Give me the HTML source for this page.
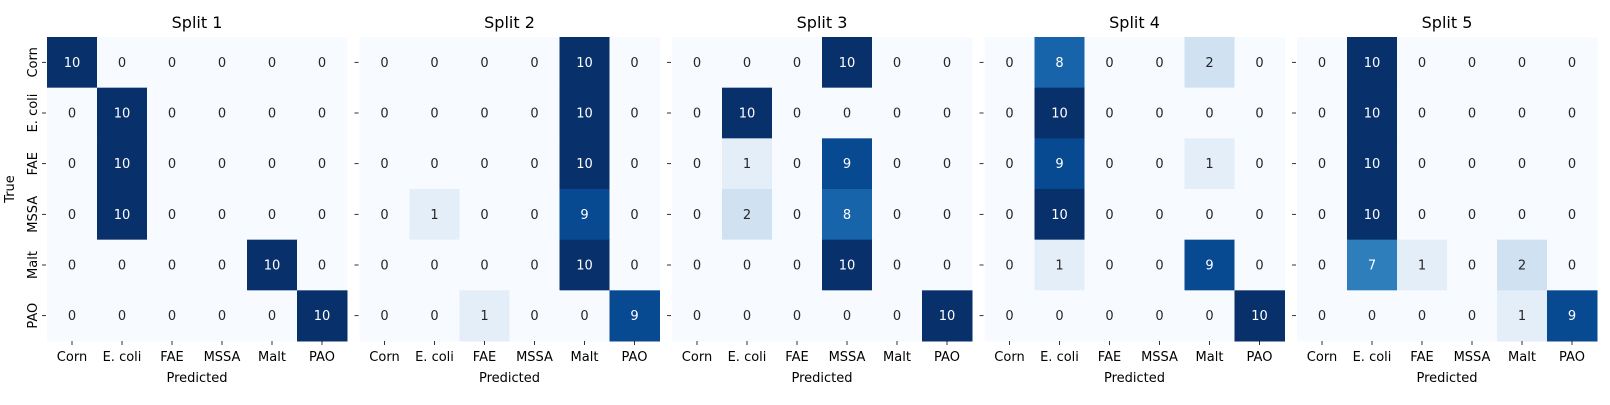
<!DOCTYPE html>
<html><head><meta charset="utf-8"><style>
html,body{margin:0;padding:0;background:#fff}
svg text{font-family:"DejaVu Sans","Liberation Sans",sans-serif;}
</style></head><body>
<svg id="chart" width="1610" height="400" xmlns="http://www.w3.org/2000/svg"></svg>
<script>
const classes = ["Corn","E. coli","FAE","MSSA","Malt","PAO"];
const splitTitles = ["Split 1","Split 2","Split 3","Split 4","Split 5"];
const split1 = [[10,0,0,0,0,0],[0,10,0,0,0,0],[0,10,0,0,0,0],[0,10,0,0,0,0],[0,0,0,0,10,0],[0,0,0,0,0,10]];
const split2 = [[0,0,0,0,10,0],[0,0,0,0,10,0],[0,0,0,0,10,0],[0,1,0,0,9,0],[0,0,0,0,10,0],[0,0,1,0,0,9]];
const split3 = [[0,0,0,10,0,0],[0,10,0,0,0,0],[0,1,0,9,0,0],[0,2,0,8,0,0],[0,0,0,10,0,0],[0,0,0,0,0,10]];
const split4 = [[0,8,0,0,2,0],[0,10,0,0,0,0],[0,9,0,0,1,0],[0,10,0,0,0,0],[0,1,0,0,9,0],[0,0,0,0,0,10]];
const split5 = [[0,10,0,0,0,0],[0,10,0,0,0,0],[0,10,0,0,0,0],[0,10,0,0,0,0],[0,7,1,0,2,0],[0,0,0,0,1,9]];
const matrices = [split1,split2,split3,split4,split5];
const vmax = 10;

const svg = document.getElementById('chart');
const NS = "http://www.w3.org/2000/svg";
const left0 = 47, pitch = 312.5, W = 300, top0 = 37, H = 304;
const cw = W/6, ch = H/6;
const stops = ["#f7fbff","#deebf7","#c6dbef","#9ecae1","#6baed6","#4292c6","#2171b5","#08519c","#08306b"];
function hex(h){return [1,3,5].map(i=>parseInt(h.substr(i,2),16));}
function color(v){
  const t = Math.max(0,Math.min(1,v/vmax))*(stops.length-1);
  const i = Math.min(stops.length-2, Math.floor(t)), f = t-i;
  const a = hex(stops[i]), b = hex(stops[i+1]);
  return "rgb("+a.map((x,k)=>Math.round(x+(b[k]-x)*f)).join(",")+")";
}
function el(tag, attrs, text){
  const e = document.createElementNS(NS, tag);
  for (const k in attrs) e.setAttribute(k, attrs[k]);
  if (text !== undefined) e.textContent = text;
  svg.appendChild(e);
  return e;
}
function xPos(p, j){ return left0 + p*pitch + j*cw; }
function yPos(i){ return top0 + i*ch; }

matrices.forEach((m, p) => {
  const t = el('text', {x: left0+p*pitch+W/2, y: 28, 'text-anchor':'middle', 'font-size':16, fill:'#000'}, splitTitles[p]);
  
  
  m.forEach((row, i) => row.forEach((v, j) => {
    const r = el('rect', {x: xPos(p,j), y: yPos(i), width: cw+0.5, height: ch+0.5, fill: color(v)});
    
    
    const tx = el('text', {x: xPos(p,j)+cw/2, y: yPos(i)+ch/2+4.5, 'text-anchor':'middle', 'font-size':13, fill: v/vmax > 0.5 ? '#fff' : '#262626'}, String(v));
    
    
  }));
  classes.forEach((c, j) => {
    const cx = xPos(p,j)+cw/2;
    el('line', {x1: cx, x2: cx, y1: top0+H, y2: top0+H+4, stroke:'#000', 'stroke-width':0.8});
    const lt = el('text', {x: cx, y: top0+H+20, 'text-anchor':'middle', 'font-size':13, fill:'#000'}, c);
    
    
  });
  classes.forEach((c, i) => {
    const cy = yPos(i)+ch/2;
    const lx = left0 + p*pitch;
    el('line', {x1: lx-5, x2: lx-1, y1: cy, y2: cy, stroke:'#000', 'stroke-width':0.8});
    if (p === 0) {
      const yl = el('text', {x: 37, y: cy, 'text-anchor':'middle', 'font-size':13, fill:'#000', transform:'rotate(-90 37 '+cy+')'}, c);
      
      
    }
  });
  const xl = el('text', {x: left0+p*pitch+W/2, y: 382, 'text-anchor':'middle', 'font-size':13, fill:'#000'}, 'Predicted');
  
  
});
const yt = el('text', {x: 14, y: 189, 'text-anchor':'middle', 'font-size':13, fill:'#000', transform:'rotate(-90 14 189)'}, 'True');


</script>
</body></html>
